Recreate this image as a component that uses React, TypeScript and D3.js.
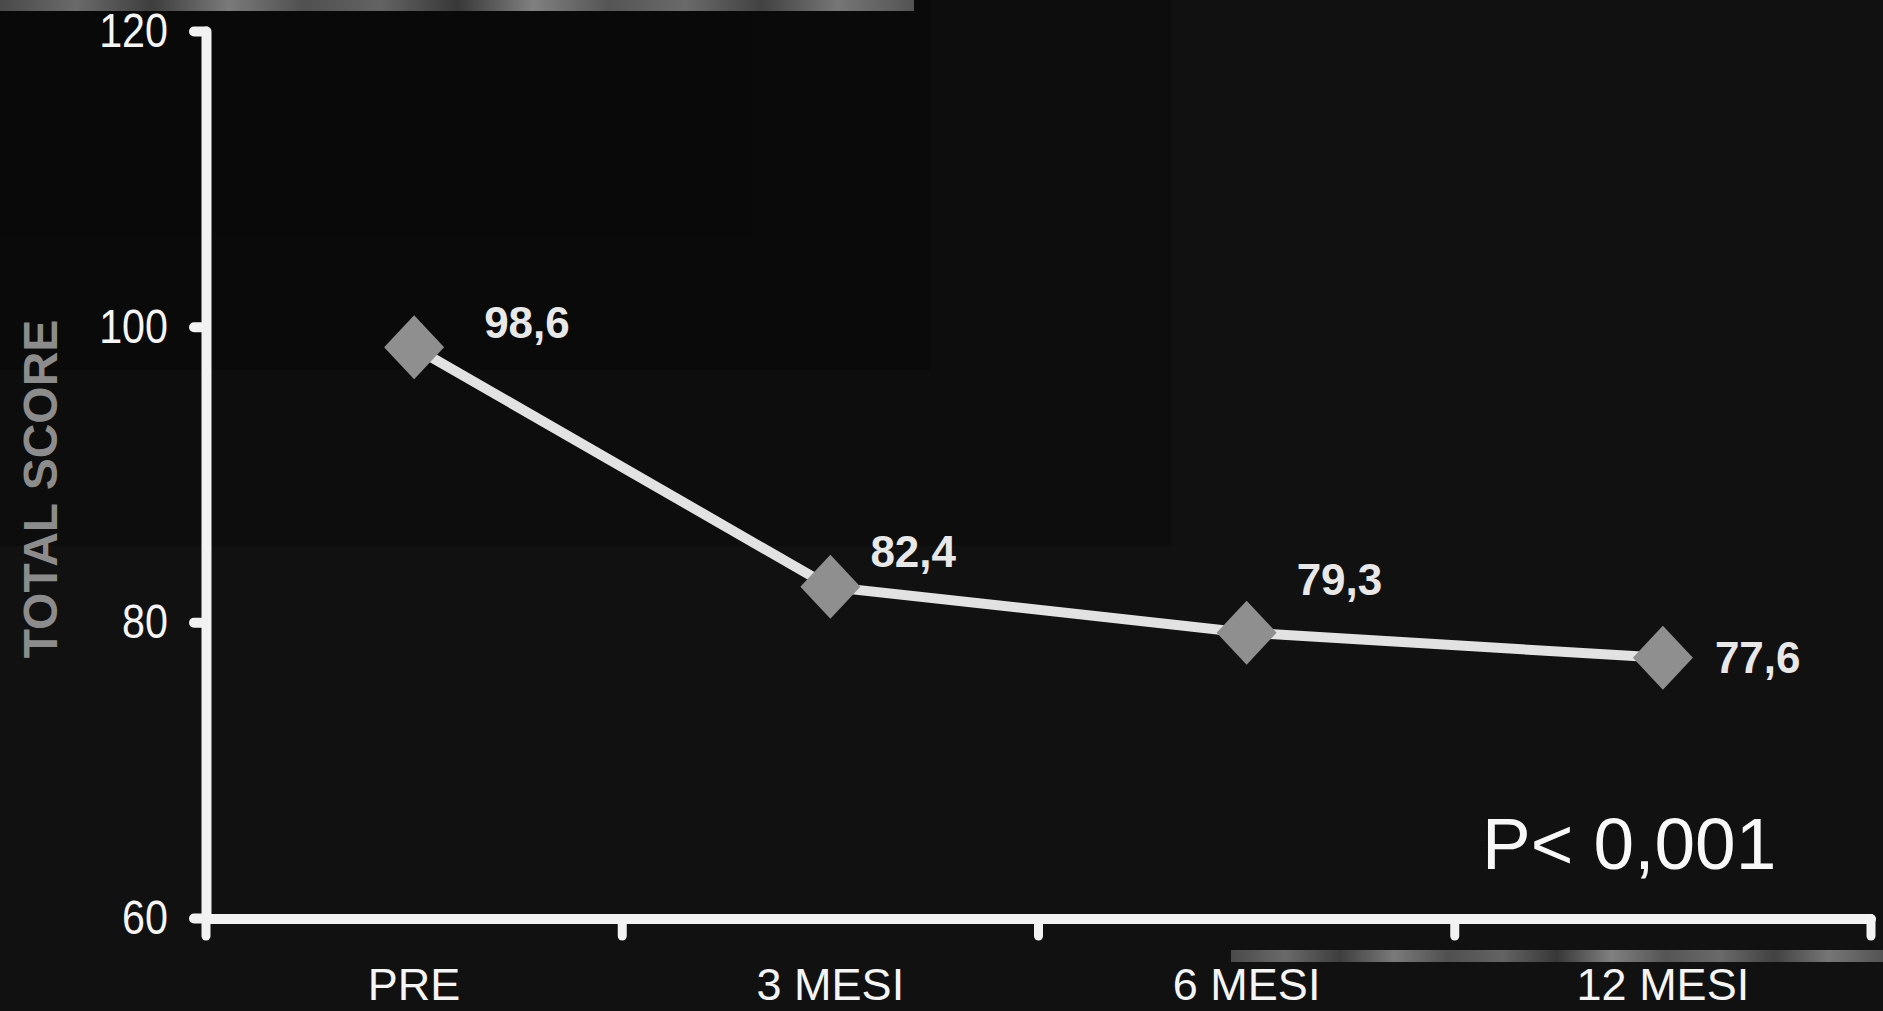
import * as d3 from "d3";
import { useEffect, useRef } from "react";

const categories = ["PRE", "3 MESI", "6 MESI", "12 MESI"];
const scores = [98.6, 82.4, 79.3, 77.6];
const scoreLabels = ["98,6", "82,4", "79,3", "77,6"];
const yTicks = [60, 80, 100, 120];
const yTitle = "TOTAL SCORE";
const pValue = "P< 0,001";

// hand-placed offsets of the value labels (as in the original slide)
const labelNudge: [number, number][] = [
  [70, -9],
  [40, -20],
  [50, -38],
  [52, 15],
];

const W = 1883;
const H = 1011;
const font = "'Liberation Sans', Arial, Helvetica, sans-serif";
const axisColor = "#f2f2f2";

export default function App() {
  const ref = useRef<SVGSVGElement>(null);

  useEffect(() => {
    document.body.style.margin = "0";
    document.body.style.background = "#111";

    const svg = d3.select(ref.current);
    svg.selectAll("*").remove();

    // background patches (scanned slide has slightly uneven blacks)
    svg.append("rect").attr("width", W).attr("height", H).attr("fill", "#111111");
    svg.append("rect").attr("width", 1171).attr("height", 546).attr("fill", "#0d0d0d");
    svg.append("rect").attr("width", 930).attr("height", 370).attr("fill", "#0a0a0a");
    svg.append("rect").attr("width", 753).attr("height", 234).attr("fill", "#090909");

    // noisy grey strips
    const defs = svg.append("defs");
    const grad = defs
      .append("linearGradient")
      .attr("id", "strip")
      .attr("x1", 0)
      .attr("x2", 1);
    const stops = ["#4a4a4a", "#6a6a6a", "#3e3e3e", "#7a7a7a", "#505050", "#636363", "#383838", "#808080", "#555", "#6a6a6a", "#424242", "#767676", "#545454"];
    stops.forEach((c, i) =>
      grad.append("stop").attr("offset", i / (stops.length - 1)).attr("stop-color", c)
    );
    svg.append("rect").attr("x", 0).attr("y", 0).attr("width", 914).attr("height", 11).attr("fill", "url(#strip)");
    svg.append("rect").attr("x", 1231).attr("y", 950).attr("width", W - 1231).attr("height", 12).attr("fill", "url(#strip)");

    const x = d3.scaleBand<string>().domain(categories).range([206, 1871]);
    const y = d3.scaleLinear().domain([60, 120]).range([918, 31]);
    const cx = (i: number) => x(categories[i])! + x.bandwidth() / 2;
    const yBase = y(60);

    // y axis
    const yAxis = svg
      .append("g")
      .attr("transform", `translate(${x.range()[0]},0)`)
      .call(d3.axisLeft(y).tickValues(yTicks).tickSize(12).tickSizeOuter(0).tickPadding(26));
    yAxis
      .select(".domain")
      .attr("stroke", axisColor)
      .attr("stroke-width", 10)
      .attr("stroke-linecap", "round");
    yAxis
      .selectAll(".tick line")
      .attr("stroke", axisColor)
      .attr("stroke-width", 10)
      .attr("stroke-linecap", "round");
    yAxis
      .selectAll<SVGTextElement, number>(".tick text")
      .attr("x", -38 / 0.86)
      .attr("transform", "scale(0.86,1)")
      .attr("fill", "#f5f5f5")
      .attr("font-size", 48)
      .attr("font-family", font);

    // x axis: ticks on band edges, labels on band centres
    const xAxis = svg.append("g");
    xAxis
      .append("line")
      .attr("x1", x.range()[0])
      .attr("x2", x.range()[1])
      .attr("y1", yBase + 1)
      .attr("y2", yBase + 1)
      .attr("stroke", axisColor)
      .attr("stroke-width", 10)
      .attr("stroke-linecap", "round");
    const edges = [...categories.map((c) => x(c)!), x.range()[1]];
    xAxis
      .selectAll("line.tick")
      .data(edges)
      .join("line")
      .attr("class", "tick")
      .attr("x1", (d) => d)
      .attr("x2", (d) => d)
      .attr("y1", yBase + 1)
      .attr("y2", yBase + 18)
      .attr("stroke", axisColor)
      .attr("stroke-width", 9)
      .attr("stroke-linecap", "round");
    xAxis
      .selectAll("text")
      .data(categories)
      .join("text")
      .attr("x", (d) => x(d)! + x.bandwidth() / 2)
      .attr("y", 1000)
      .attr("text-anchor", "middle")
      .attr("fill", "#f5f5f5")
      .attr("font-size", 45)
      .attr("font-family", font)
      .text((d) => d);

    // axis title
    svg
      .append("text")
      .attr("transform", "translate(57,489) rotate(-90)")
      .attr("text-anchor", "middle")
      .attr("fill", "#8c8c8c")
      .attr("font-size", 48)
      .attr("font-weight", "bold")
      .attr("font-family", font)
      .text(yTitle);

    // line + diamonds
    const line = d3
      .line<number>()
      .x((_, i) => cx(i))
      .y((d) => y(d));
    svg
      .append("path")
      .datum(scores)
      .attr("d", line)
      .attr("fill", "none")
      .attr("stroke", "#e2e2e2")
      .attr("stroke-width", 10);

    svg
      .selectAll("path.mark")
      .data(scores)
      .join("path")
      .attr("class", "mark")
      .attr("d", "M0,-32L30,0L0,32L-30,0Z")
      .attr("transform", (d, i) => `translate(${cx(i)},${y(d)})`)
      .attr("fill", "#8f8f8f");

    // value labels
    svg
      .selectAll("text.value")
      .data(scores)
      .join("text")
      .attr("class", "value")
      .attr("x", (_, i) => cx(i) + labelNudge[i][0])
      .attr("y", (d, i) => y(d) + labelNudge[i][1])
      .attr("fill", "#e8e8e8")
      .attr("font-size", 44)
      .attr("font-weight", "bold")
      .attr("font-family", font)
      .text((_, i) => scoreLabels[i]);

    svg
      .append("text")
      .attr("x", 1482)
      .attr("y", 869)
      .attr("fill", "#f8f8f8")
      .attr("font-size", 73)
      .attr("font-family", font)
      .text(pValue);
  }, []);

  return (
    <svg
      ref={ref}
      width={W}
      height={H}
      viewBox={`0 0 ${W} ${H}`}
      style={{ display: "block" }}
    />
  );
}
